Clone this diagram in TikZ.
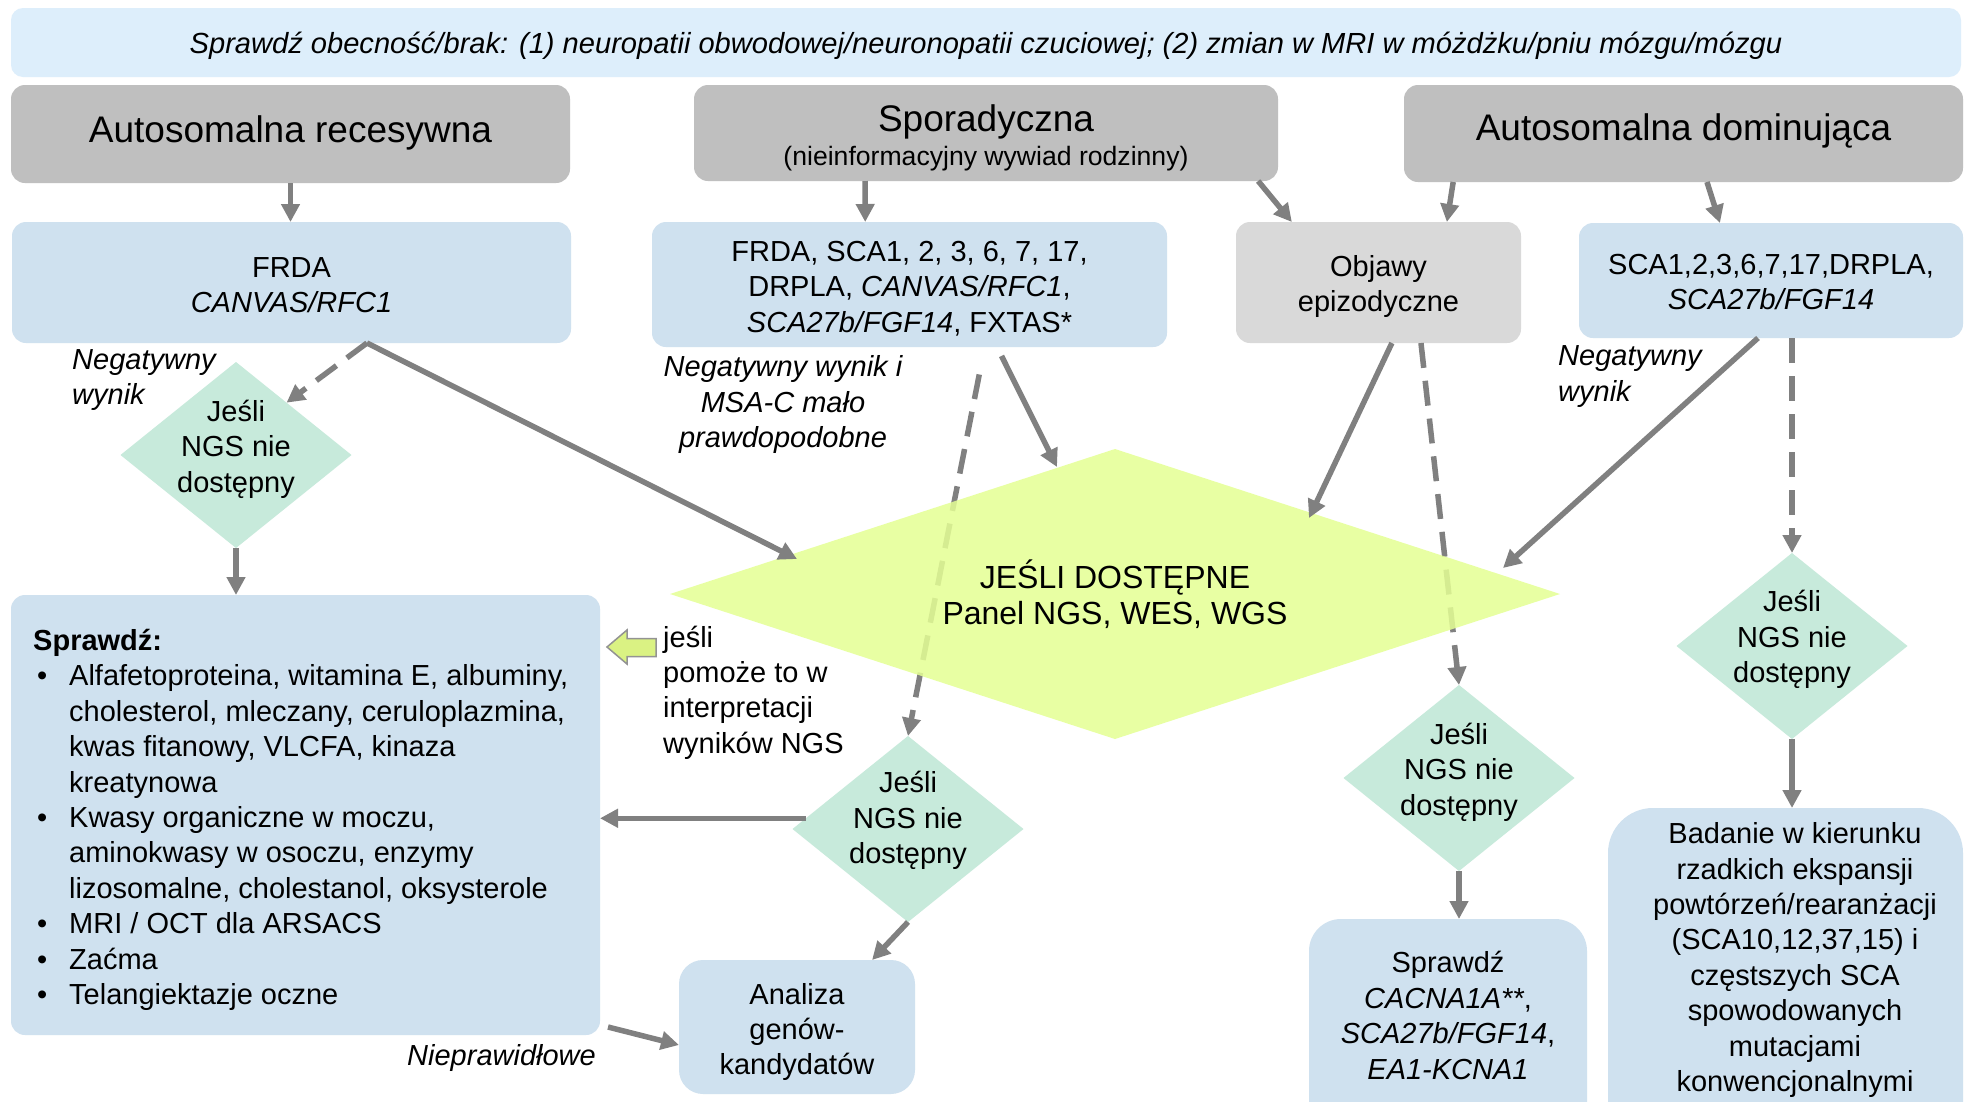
\documentclass[tikz,border=0pt]{standalone}
\usepackage{fontspec}
\setmainfont{Liberation Sans}
\usetikzlibrary{arrows.meta,shapes.geometric,calc}
\definecolor{bannerblue}{HTML}{DDEEFB}
\definecolor{headgray}{HTML}{BFBFBF}
\definecolor{boxblue}{HTML}{CFE1EF}
\definecolor{epigray}{HTML}{D9D9D9}
\definecolor{mintd}{HTML}{C7EADB}
\definecolor{ngslime}{HTML}{E5FF94}
\definecolor{hollowfill}{HTML}{DAF283}
\definecolor{arrowgray}{HTML}{808080}
\newcommand{\fbody}{\fontsize{29}{35.4}\selectfont}
\newcommand{\ftitle}{\fontsize{37}{44}\selectfont}
\newcommand{\fsubt}{\fontsize{26.6}{34}\selectfont}
\newcommand{\fbig}{\fontsize{32}{36}\selectfont}
\begin{document}
\begin{tikzpicture}[x=1pt,y=-1pt,
  box/.style={rounded corners=14pt, inner sep=0pt, outer sep=0pt},
  btext/.style={align=center, font=\fbody, inner sep=0pt},
  ngsd/.style={diamond, fill=mintd, inner sep=0pt, outer sep=0pt, minimum width=231pt, minimum height=186pt},
  lbl/.style={font=\fbody\itshape, inner sep=0pt},
  arr/.style={draw=arrowgray, line width=5.5pt, -{Triangle[length=18pt,width=18pt]}},
  dsh/.style={arr, dash pattern=on 25pt off 13pt}]
\useasboundingbox (0,0) rectangle (1965,1101);
\fill[white] (0,0) rectangle (1965,1101);

% banner and headers
\node[box, fill=bannerblue, minimum width=1950pt, minimum height=69pt, rounded corners=12pt] (banner) at (986,42.5) {};
\node[btext, font=\fontsize{29.1}{35}\selectfont\itshape] (bannert) at (986,46)
  {Sprawdź obecność/brak: (1) neuropatii obwodowej/neuronopatii czuciowej; (2) zmian w MRI w móżdżku/pniu mózgu/mózgu};
\node[box, fill=headgray, minimum width=559pt, minimum height=98pt] (rec) at (290.5,134) {};
\node[btext, font=\ftitle] (rect) at (290.5,133) {Autosomalna recesywna};
\node[box, fill=headgray, minimum width=584pt, minimum height=96pt] (spor) at (986,133) {};
\node[btext, font=\fsubt] (sport) at (986,138) {{\ftitle Sporadyczna}\\(nieinformacyjny wywiad rodzinny)};
\node[box, fill=headgray, minimum width=559pt, minimum height=97pt] (dom) at (1683.5,133.5) {};
\node[btext, font=\ftitle] (domt) at (1683.5,131) {Autosomalna dominująca};

% second row
\node[box, fill=boxblue, minimum width=559pt, minimum height=121pt] (frda) at (291.5,282.5) {};
\node[btext] (frdat) at (291.5,285) {FRDA\\\textit{CANVAS/RFC1}};
\node[box, fill=boxblue, minimum width=515pt, minimum height=125pt] (list) at (909.5,284.5) {};
\node[btext] (listt) at (909.5,288.5) {FRDA, SCA1, 2, 3, 6, 7, 17,\\DRPLA, \textit{CANVAS/RFC1},\\\textit{SCA27b/FGF14}, FXTAS*};
\node[box, fill=epigray, minimum width=285pt, minimum height=121pt] (obj) at (1378.5,282.5) {};
\node[btext] (objt) at (1378.5,286.5) {Objawy\\epizodyczne};
\node[box, fill=boxblue, minimum width=384pt, minimum height=115pt] (sca) at (1771,280.5) {};
\node[btext] (scat) at (1771,282) {SCA1,2,3,6,7,17,DRPLA,\\\textit{SCA27b/FGF14}};

% small diamonds
\node[ngsd] (dl) at (236,455) {};
\node[btext] (dlt) at (236,449) {Jeśli\\NGS nie\\dostępny};
\node[ngsd] (md) at (908,829) {};
\node[btext] (mdt) at (908,820.5) {Jeśli\\NGS nie\\dostępny};
\node[ngsd] (rmd) at (1459,778) {};
\node[btext] (rmdt) at (1459,772) {Jeśli\\NGS nie\\dostępny};
\node[ngsd] (rd) at (1792,646) {};
\node[btext] (rdt) at (1792,639.5) {Jeśli\\NGS nie\\dostępny};

% lower boxes
\node[box, fill=boxblue, minimum width=589pt, minimum height=440pt] (sprawdz) at (305.5,815) {};
\node[anchor=north west, align=left, font=\fbody, inner sep=0pt] (sprt) at (33,629)
  {\textbf{Sprawdź:}\\
   \hspace*{4pt}\makebox[32pt][l]{•}Alfafetoproteina, witamina E, albuminy,\\
   \hspace*{36pt}cholesterol, mleczany, ceruloplazmina,\\
   \hspace*{36pt}kwas fitanowy, VLCFA, kinaza\\
   \hspace*{36pt}kreatynowa\\
   \hspace*{4pt}\makebox[32pt][l]{•}Kwasy organiczne w moczu,\\
   \hspace*{36pt}aminokwasy w osoczu, enzymy\\
   \hspace*{36pt}lizosomalne, cholestanol, oksysterole\\
   \hspace*{4pt}\makebox[32pt][l]{•}MRI / OCT dla ARSACS\\
   \hspace*{4pt}\makebox[32pt][l]{•}Zaćma\\
   \hspace*{4pt}\makebox[32pt][l]{•}Telangiektazje oczne};
\node[box, fill=boxblue, rounded corners=24pt, minimum width=236pt, minimum height=134pt] (anal) at (797,1027) {};
\node[btext] (analt) at (797,1032) {Analiza\\genów-\\kandydatów};
\node[box, fill=boxblue, rounded corners=32pt, minimum width=278pt, minimum height=222pt] (cacbox) at (1448,1030) {};
\node[btext] (cact) at (1448,1015.5) {Sprawdź\\\textit{CACNA1A**},\\\textit{SCA27b/FGF14},\\\textit{EA1-KCNA1}};
\node[box, fill=boxblue, rounded corners=45pt, minimum width=355pt, minimum height=342pt] (badbox) at (1785.5,979) {};
\node[btext] (badt) at (1795,960) {Badanie w kierunku\\rzadkich ekspansji\\powtórzeń/rearanżacji\\(SCA10,12,37,15) i\\częstszych SCA\\spowodowanych\\mutacjami\\konwencjonalnymi};

% labels
\node[lbl, anchor=west, align=left] (negl) at (72,380) {Negatywny\\wynik};
\node[lbl, align=center] (negm) at (783,404.5) {Negatywny wynik i\\MSA-C mało\\prawdopodobne};
\node[lbl, anchor=west, align=left] (negr) at (1558,376.5) {Negatywny\\wynik};
\node[lbl, anchor=east] (niep) at (596,1058) {Nieprawidłowe};
\node[anchor=west, align=left, font=\fbody, inner sep=0pt] (jesli) at (663,692.5) {jeśli\\pomoże to w\\interpretacji\\wyników NGS};

% hollow block arrow
\draw[draw=arrowgray!85, line width=1.5pt, fill=hollowfill] (607,647) -- (627,630) -- (627,638.5) -- (656,638.5) -- (656,656.5) -- (627,656.5) -- (627,664) -- cycle;

% dashed connectors (behind the big diamond)
\coordinate (fa) at ($(frda.south west)!0.635!(frda.south east)$);
\draw[dsh] (fa) -- (dl.46);
\draw[dsh, shorten <=28pt] ($(list.south west)!0.646!(list.south east)$) -- (md.north);
\draw[dsh] ($(obj.south west)!0.649!(obj.south east)$) -- (rmd.north);
\draw[dsh] (rd.north |- sca.south) -- (rd.north);

% big diamond
\node[diamond, fill=ngslime, fill opacity=0.85, text opacity=1, minimum width=890pt, minimum height=290pt, inner sep=0pt, outer sep=0pt, aspect=3, font=\fbig, align=center] (big) at (1115,594)
  {JEŚLI DOSTĘPNE\\Panel NGS, WES, WGS};

% solid connectors
\draw[arr] (rec.south) -- (rec.south |- frda.north);
\draw[arr] ($(spor.south west)!0.293!(spor.south east)$) -- ($(list.north west)!0.414!(list.north east)$);
\draw[arr] ($(spor.south west)!0.966!(spor.south east)$) -- ($(obj.north west)!0.196!(obj.north east)$);
\draw[arr] ($(dom.south west)!0.088!(dom.south east)$) -- ($(obj.north west)!0.74!(obj.north east)$);
\draw[arr] ($(dom.south west)!0.542!(dom.south east)$) -- ($(sca.north west)!0.367!(sca.north east)$);
\draw[arr] (fa) -- ($(big.center)+(-318,-35)$);
\draw[arr, shorten <=10pt] ($(list.south west)!0.670!(list.south east)$) -- ($(big.center)+(-58,-127)$);
\draw[arr] ($(obj.south west)!0.547!(obj.south east)$) -- ($(big.center)+(194,-76)$);
\draw[arr] ($(sca.south west)!0.466!(sca.south east)$) -- ($(big.center)+(388,-26)$);
\draw[arr] (dl.south) -- (dl.south |- sprawdz.north);
\draw[arr] (md.174) -- (md.174 -| sprawdz.east);
\draw[arr] (md.south) -- ($(anal.north west)!0.818!(anal.north east)$);
\draw[arr] ($(sprawdz.south east)+(8,-8)$) -- ($(anal.west)+(0,18)$);
\draw[arr] (rmd.south) -- (rmd.south |- cacbox.north);
\draw[arr] (rd.south) -- (rd.south |- badbox.north);
\end{tikzpicture}
\end{document}
